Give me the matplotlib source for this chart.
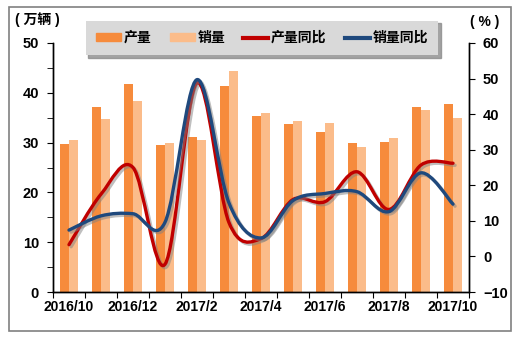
import numpy as np
import matplotlib
matplotlib.use('Agg')
from matplotlib import pyplot as plt
from matplotlib.path import Path
from matplotlib.patches import PathPatch, Rectangle
from matplotlib.lines import Line2D
import matplotlib.patheffects as pe

plt.rcParams['font.family'] = ['Liberation Sans', 'Noto Sans CJK SC']
plt.rcParams['font.weight'] = 'bold'

months = ['2016/10', '2016/11', '2016/12', '2017/1', '2017/2', '2017/3', '2017/4',
          '2017/5', '2017/6', '2017/7', '2017/8', '2017/9', '2017/10']
production = [29.7, 37.1, 41.8, 29.5, 31.1, 41.4, 35.3, 33.7, 32.1, 29.9, 30.1, 37.1, 37.7]
sales = [30.5, 34.7, 38.4, 29.9, 30.5, 44.4, 35.9, 34.3, 33.9, 29.1, 30.9, 36.5, 34.9]
production_yoy = [3.3, 17.5, 25.0, -2.2, 48.8, 9.5, 5.0, 16.0, 15.4, 23.8, 13.2, 25.7, 26.2]
sales_yoy = [7.4, 11.4, 12.0, 9.6, 49.7, 15.0, 5.2, 15.7, 17.7, 18.2, 12.6, 23.5, 14.7]

C_PROD = '#F68B3C'
C_SALES = '#FBBC8A'
C_PROD_YOY = '#C00000'
C_SALES_YOY = '#1F497D'


def smooth_path(xs, ys):
    # cubic bezier through every point, catmull-rom style handles
    pts = np.column_stack([xs, ys]).astype(float)
    n = len(pts)
    verts = [pts[0]]
    codes = [Path.MOVETO]
    for i in range(n - 1):
        p0 = pts[max(i - 1, 0)]
        p1 = pts[i]
        p2 = pts[i + 1]
        p3 = pts[min(i + 2, n - 1)]
        verts += [p1 + (p2 - p0) / 6, p2 - (p3 - p1) / 6, p2]
        codes += [Path.CURVE4] * 3
    return Path(verts, codes)


fig = plt.figure(figsize=(5.2, 3.38), dpi=100)
ax = fig.add_axes([53 / 520, 46 / 338, 416 / 520, 249 / 338])
ax2 = ax.twinx()

x = np.arange(len(months))
w = 0.28
ax.bar(x - w / 2, production, w, color=C_PROD, zorder=2)
ax.bar(x + w / 2, sales, w, color=C_SALES, zorder=2)

for vals, col in [(production_yoy, C_PROD_YOY), (sales_yoy, C_SALES_YOY)]:
    patch = PathPatch(smooth_path(x, vals), facecolor='none', edgecolor=col, lw=2.4,
                      capstyle='round', joinstyle='round', zorder=3)
    patch.set_path_effects([pe.SimpleLineShadow(offset=(1.5, -1.5), shadow_color='gray', alpha=0.5),
                            pe.Normal()])
    ax2.add_patch(patch)

ax.set_xlim(-0.5, len(months) - 0.5)
ax.set_ylim(0, 50)
ax2.set_ylim(-10, 60)

# category boundaries get the tick marks, every other month gets a label
ax.set_xticks(np.arange(-0.5, len(months), 1))
ax.set_xticklabels([])
ax.set_xticks(x[::2], minor=True)
ax.set_xticklabels(months[::2], minor=True)
ax.tick_params(axis='x', which='major', length=4, direction='out')
ax.tick_params(axis='x', which='minor', length=0, pad=6, labelsize=10)

ax.set_yticks(range(0, 51, 10))
ax.set_yticks(range(5, 50, 10), minor=True)
ax.tick_params(axis='y', which='both', length=4, direction='out', labelsize=10.5, pad=6)
ax2.set_yticks(range(-10, 61, 10))
ax2.tick_params(axis='y', length=4, direction='out', labelsize=10.5, pad=6)

for a in (ax, ax2):
    a.spines['top'].set_visible(False)
    for s in ('left', 'right', 'bottom'):
        a.spines[s].set_color('black')
        a.spines[s].set_linewidth(1.0)

fig.text(15 / 520, 1 - 20 / 338, '( 万辆 )', fontsize=10, fontweight='bold', va='center', ha='left')
fig.text(485 / 520, 1 - 22 / 338, '( % )', fontsize=10, fontweight='bold', va='center', ha='center')

handles = [
    Rectangle((0, 0), 1, 1, color=C_PROD),
    Rectangle((0, 0), 1, 1, color=C_SALES),
    Line2D([], [], color=C_PROD_YOY, lw=3),
    Line2D([], [], color=C_SALES_YOY, lw=3),
]
leg = fig.legend(handles, ['产量', '销量', '产量同比', '销量同比'], ncol=4,
                 loc='center', bbox_to_anchor=(262 / 520, 1 - 38 / 338),
                 frameon=True, fancybox=False, facecolor='#D9D9D9', edgecolor='none',
                 framealpha=1, shadow={'color': '#8c8c8c', 'alpha': 0.8},
                 prop={'size': 10, 'weight': 'bold'},
                 handlelength=1.8, handleheight=0.5, handletextpad=0.2,
                 columnspacing=1.3, borderpad=0.75, borderaxespad=0)

fig.patches.append(Rectangle((9 / 520, 7 / 338), 502 / 520, 324 / 338, transform=fig.transFigure,
                             fill=False, edgecolor='#808080', lw=1.2))

fig.savefig('out.png', dpi=100)
